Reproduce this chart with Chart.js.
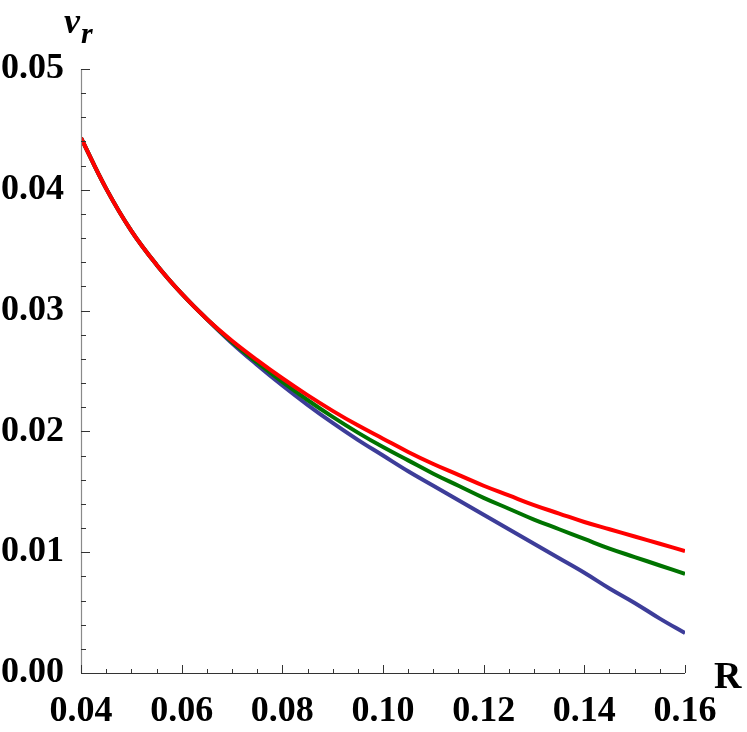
<!DOCTYPE html>
<html>
<head>
<meta charset="utf-8">
<script src="https://cdn.jsdelivr.net/npm/chart.js@4/dist/chart.umd.min.js"></script>
<style>
  html, body { margin: 0; padding: 0; background: #fff; }
  canvas { display: block; }
</style>
</head>
<body>
<canvas id="chart" width="747" height="732"></canvas>
<script>
// R values (x axis)
const rValues = [0.040, 0.045, 0.050, 0.055, 0.060, 0.065, 0.070, 0.075, 0.080, 0.085,
                 0.090, 0.095, 0.100, 0.105, 0.110, 0.115, 0.120, 0.125, 0.130, 0.135,
                 0.140, 0.145, 0.150, 0.155, 0.160];

// v_r curves
const redValues = [0.0443, 0.0401, 0.0366, 0.0338, 0.0314, 0.0293, 0.0275, 0.0259, 0.0244, 0.0230,
                   0.0217, 0.0205, 0.0194, 0.0183, 0.0173, 0.0164, 0.0155, 0.0147, 0.0139, 0.0132,
                   0.0125, 0.0119, 0.0113, 0.0107, 0.0101];
const greenValues = [0.0443, 0.0401, 0.0366, 0.0338, 0.0314, 0.0293, 0.0274, 0.0257, 0.0241, 0.0226,
                     0.0212, 0.0199, 0.0187, 0.0176, 0.0165, 0.0155, 0.0145, 0.0136, 0.0127, 0.0119,
                     0.0111, 0.0103, 0.0096, 0.0089, 0.0082];
const blueValues = [0.0443, 0.0401, 0.0366, 0.0338, 0.0314, 0.0293, 0.0273, 0.0255, 0.0238, 0.0222,
                    0.0207, 0.0193, 0.0180, 0.0167, 0.0155, 0.0143, 0.0131, 0.0119, 0.0107, 0.0095,
                    0.0083, 0.0070, 0.0058, 0.0045, 0.0033];

// tick labels
const xTicks = [0.04, 0.06, 0.08, 0.10, 0.12, 0.14, 0.16];
const yTicks = [0.00, 0.01, 0.02, 0.03, 0.04, 0.05];

const FONT = '"Liberation Serif", "Times New Roman", serif';

function points(ys) {
    return ys.map((v, i) => ({ x: rValues[i], y: v }));
}

// axes with inward ticks, plus the axis titles
const frameAxes = {
    id: 'frameAxes',
    afterDraw(chart) {
        const ctx = chart.ctx;
        const xs = chart.scales.x;
        const ys = chart.scales.y;
        const left = xs.left, bottom = ys.bottom;
        ctx.save();

        ctx.strokeStyle = '#8a8a8a';
        ctx.lineWidth = 1.2;
        ctx.beginPath();
        ctx.moveTo(left + 0.5, ys.top);
        ctx.lineTo(left + 0.5, bottom);
        ctx.stroke();

        ctx.strokeStyle = '#333';
        ctx.lineWidth = 1;
        ctx.beginPath();
        ctx.moveTo(left, bottom + 0.5);
        ctx.lineTo(xs.right, bottom + 0.5);
        ctx.stroke();

        // y ticks every 0.002, major every 0.01
        for (let i = 0; i <= 25; i++) {
            const py = Math.round(ys.getPixelForValue(i * 0.002)) + 0.5;
            const len = i % 5 === 0 ? 9 : 5;
            ctx.beginPath();
            ctx.moveTo(left, py);
            ctx.lineTo(left + len, py);
            ctx.stroke();
        }
        // x ticks every 0.005, major every 0.02
        for (let i = 0; i <= 24; i++) {
            const px = Math.round(xs.getPixelForValue(0.04 + i * 0.005)) + 0.5;
            const len = i % 4 === 0 ? 8 : 4;
            ctx.beginPath();
            ctx.moveTo(px, bottom);
            ctx.lineTo(px, bottom - len);
            ctx.stroke();
        }

        ctx.fillStyle = '#000';
        ctx.textBaseline = 'alphabetic';
        ctx.textAlign = 'left';
        ctx.font = 'italic bold 36px ' + FONT;
        ctx.fillText('v', 64, 33);
        ctx.font = 'italic bold 30px ' + FONT;
        ctx.fillText('r', 81, 43);
        ctx.font = 'bold 38px ' + FONT;
        ctx.fillText('R', 714, 688);
        ctx.restore();
    }
};

new Chart(document.getElementById('chart'), {
    type: 'line',
    data: {
        datasets: [
            { data: points(redValues), borderColor: '#ff0000' },
            { data: points(greenValues), borderColor: 'rgb(0,115,0)' },
            { data: points(blueValues), borderColor: 'rgb(61,61,153)' }
        ]
    },
    options: {
        responsive: false,
        animation: false,
        devicePixelRatio: 1,
        layout: { padding: { left: 0, top: 69, right: 62, bottom: 0 } },
        elements: {
            point: { radius: 0 },
            line: { borderWidth: 4, tension: 0.4, fill: false }
        },
        plugins: {
            legend: { display: false },
            tooltip: { enabled: false }
        },
        scales: {
            x: {
                type: 'linear',
                min: 0.04,
                max: 0.16,
                grid: { display: false, drawTicks: false },
                border: { display: false },
                afterBuildTicks: (scale) => { scale.ticks = xTicks.map(v => ({ value: v })); },
                afterFit: (scale) => { scale.height = 59; },
                ticks: {
                    padding: 17,
                    color: '#000',
                    maxRotation: 0,
                    autoSkip: false,
                    font: { family: FONT, weight: 'bold', size: 36 },
                    callback: (v) => v.toFixed(2)
                }
            },
            y: {
                min: 0,
                max: 0.05,
                grid: { display: false, drawTicks: false },
                border: { display: false },
                afterBuildTicks: (scale) => { scale.ticks = yTicks.map(v => ({ value: v })); },
                afterFit: (scale) => { scale.width = 81; },
                ticks: {
                    padding: 17,
                    color: '#000',
                    autoSkip: false,
                    font: { family: FONT, weight: 'bold', size: 36 },
                    callback: (v) => v.toFixed(2)
                }
            }
        }
    },
    plugins: [frameAxes]
});
</script>
</body>
</html>
